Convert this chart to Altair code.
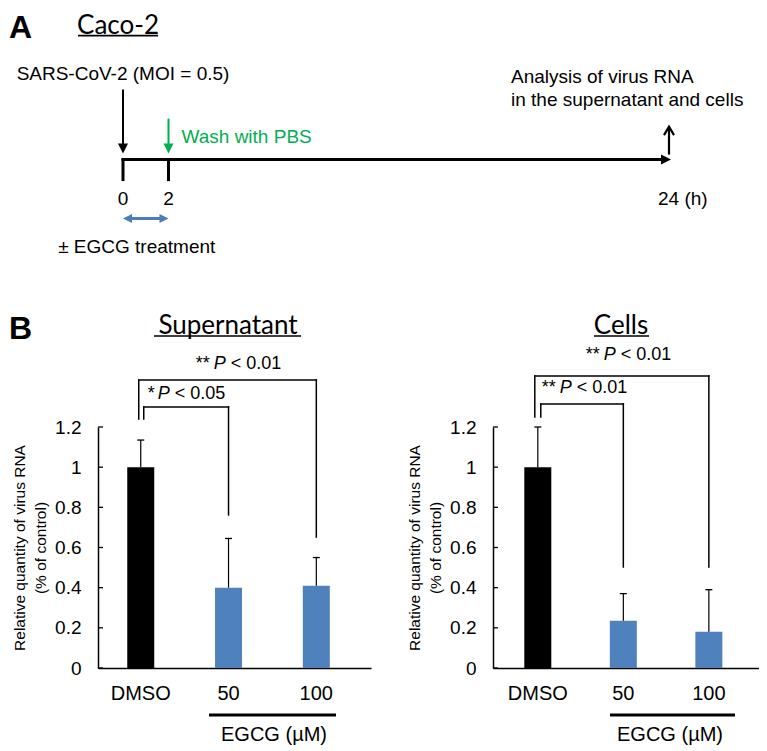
import altair as alt
import pandas as pd

ARIAL = "Liberation Sans"
CAL = "Lato"

# ---------------- Panel A : timeline (hours) ----------------
tick_hours = [0, 2]
tick_labels = ["0", "2"]
end_hour = 24
end_label = "24 (h)"
infect_label = "SARS-CoV-2 (MOI = 0.5)"
wash_label = "Wash with PBS"
analysis_lines = ["Analysis of virus RNA", "in the supernatant and cells"]
treat_label = "\u00b1 EGCG treatment"
panel_letters = ["A", "B"]
cell_line = "Caco-2"

# ---------------- Panel B : bar charts ----------------
groups = ["DMSO", "50", "100"]
bar_colors = ["#000000", "#4F81BD", "#4F81BD"]
sup_mean = [1.00, 0.40, 0.41]
sup_err = [0.135, 0.245, 0.14]
cell_mean = [1.00, 0.235, 0.18]
cell_err = [0.20, 0.135, 0.21]
y_ticks = [0, 0.2, 0.4, 0.6, 0.8, 1.0, 1.2]
y_title = ["Relative quantity of virus RNA", "(% of control)"]
x_group_label = "EGCG (\u00b5M)"
# (from, to, bottom at from, top, bottom at to)
sup_brackets = [("DMSO", "50", 1.24, 1.30, 0.762), ("DMSO", "100", 1.24, 1.434, 0.652)]
cell_brackets = [("DMSO", "50", 1.25, 1.315, 0.503), ("DMSO", "100", 1.25, 1.454, 0.503)]
# (y, stars, rest)
sup_p = [(1.365, "*", "< 0.05"), (1.514, "**", "< 0.01")]
cell_p = [(1.394, "**", "< 0.01"), (1.559, "**", "< 0.01")]
panel_titles = ["Supernatant", "Cells"]

DOWN = "M-1,-1L1,-1L0,1Z"
RIGHT = "M-1,-1L1,0L-1,1Z"
LEFT = "M1,-1L-1,0L1,1Z"
UPCHEV = "M-1,0.7L0,-1L1,0.7"

S = -6.4  # vertical shift of panel A content


def one(**cols):
    return pd.DataFrame({k: (v if isinstance(v, list) else [v]) for k, v in cols.items()})


def text(t, x, y, size=19, align="left", baseline="middle", font=ARIAL, weight="normal",
         color="black", style="normal", dx=0, data=None):
    df = data if data is not None else one(t=t)
    return alt.Chart(df).mark_text(align=align, baseline=baseline, font=font, fontSize=size,
                                   fontWeight=weight, fontStyle=style, color=color, dx=dx).encode(
        text="t:N", x=x, y=y)


V = lambda v: alt.value(v + S)

# ---------------- Panel A ----------------
xa = alt.Scale(domain=[0, 24], range=[25, 571])
HX = lambda f="h": alt.X(f"{f}:Q", scale=xa, axis=None)
HX2 = lambda f: alt.X2(f"{f}:Q")

A = []
A.append(alt.Chart(one(a=0)).mark_rule(color="white", strokeWidth=1).encode(
    x=alt.value(-89), x2=alt.value(-88), y=alt.value(-7)))
A.append(text(panel_letters[0], alt.value(-89), alt.value(22), size=32, weight="bold", baseline="alphabetic"))
A.append(text(panel_letters[1], alt.value(-89), V(329), size=32, weight="bold", baseline="alphabetic"))
A.append(text(cell_line, alt.value(20), V(24), size=26, font=CAL, align="center", baseline="alphabetic"))
A.append(alt.Chart(one(a=0)).mark_rule(color="black", strokeWidth=1.6).encode(
    x=alt.value(-20), x2=alt.value(60), y=V(26)))
A.append(text(infect_label, HX(), V(70), align="center", baseline="alphabetic",
              data=one(t=infect_label, h=tick_hours[0])))
# black infection arrow
A.append(alt.Chart(one(h=tick_hours[0])).mark_rule(color="black", strokeWidth=2).encode(
    x=HX(), y=V(80), y2=V(136)))
A.append(alt.Chart(one(h=tick_hours[0])).mark_point(shape=DOWN, size=100, filled=True, color="black", opacity=1).encode(
    x=HX(), y=V(139)))
# green wash arrow
A.append(alt.Chart(one(h=tick_hours[1])).mark_rule(color="#00B050", strokeWidth=2).encode(
    x=HX(), y=V(109), y2=V(136)))
A.append(alt.Chart(one(h=tick_hours[1])).mark_point(shape=DOWN, size=100, filled=True, color="#00B050", opacity=1).encode(
    x=HX(), y=V(139)))
A.append(text(wash_label, HX(), V(127), color="#00B050", dx=13, data=one(t=wash_label, h=tick_hours[1])))
# timeline
A.append(alt.Chart(one(h0=tick_hours[0], h1=end_hour)).mark_rule(color="black", strokeWidth=3, x2Offset=-6, strokeCap="square").encode(
    x=HX("h0"), x2=HX2("h1"), y=V(150)))
A.append(alt.Chart(one(h=end_hour)).mark_point(shape=RIGHT, size=100, filled=True, color="black", opacity=1, xOffset=-3).encode(
    x=HX(), y=V(150)))
A.append(alt.Chart(pd.DataFrame({"h": tick_hours})).mark_rule(color="black", strokeWidth=3, strokeCap="square").encode(
    x=HX(), y=V(150), y2=V(170)))
A.append(text(None, HX(), V(189), align="center", data=pd.DataFrame({"t": tick_labels, "h": tick_hours})))
A.append(text(end_label, HX(), V(189), dx=-11, data=one(t=end_label, h=end_hour)))
# analysis arrow
A.append(alt.Chart(one(h=end_hour)).mark_rule(color="black", strokeWidth=2.2).encode(
    x=HX(), y=V(145), y2=V(119)))
A.append(alt.Chart(one(h=end_hour)).mark_point(shape=UPCHEV, size=100, filled=False, color="black", strokeWidth=2.2, opacity=1).encode(
    x=HX(), y=V(122)))
A.append(text(analysis_lines[0], alt.value(413), V(67)))
A.append(text(analysis_lines[1], alt.value(413), V(90)))
# treatment double arrow
BLUE = "#4A7EBB"
A.append(alt.Chart(one(h0=tick_hours[0], h1=tick_hours[1])).mark_rule(color=BLUE, strokeWidth=3, xOffset=5, x2Offset=-5).encode(
    x=HX("h0"), x2=HX2("h1"), y=V(209)))
A.append(alt.Chart(one(h=tick_hours[0])).mark_point(shape=LEFT, size=81, filled=True, color=BLUE, opacity=1, xOffset=4.5).encode(
    x=HX(), y=V(209)))
A.append(alt.Chart(one(h=tick_hours[1])).mark_point(shape=RIGHT, size=81, filled=True, color=BLUE, opacity=1, xOffset=-4.5).encode(
    x=HX(), y=V(209)))
A.append(text(treat_label, HX(), V(237), align="center", dx=-9, data=one(t=treat_label, h=1)))

panelA = alt.layer(*A).properties(width=661, height=417 + S)


# ---------------- Panel B ----------------
def bar_chart(means, errs, title, brackets, plabels, width, align, title_x, ul, egcg_ul, egcg_x,
              br_off, p_dx):
    H = 241
    xs = alt.Scale(domain=groups, paddingInner=0.69, paddingOuter=0.4, align=align)
    ys = alt.Scale(domain=[0, 1.2], nice=False, zero=False)
    xaxis = alt.Axis(title=None, labelAngle=0, labelFont=ARIAL, labelFontSize=20, labelColor="black",
                     labelPadding=15, ticks=False, tickSize=0, domainColor="black", domainWidth=1.5, grid=False)
    yaxis = alt.Axis(title=y_title, values=y_ticks, format="~g", labelFont=ARIAL, labelFontSize=19,
                     labelColor="black", labelPadding=17, ticks=False, tickSize=0, domainColor="black",
                     domainWidth=1.5, grid=False, titleFont=ARIAL, titleFontSize=15.5, titleFontWeight="normal",
                     titleColor="black", titleLineHeight=21, titlePadding=6)
    X = lambda f: alt.X(f"{f}:N", scale=xs, axis=xaxis, bandPosition=0.5)
    Y = lambda f: alt.Y(f"{f}:Q", scale=ys, axis=yaxis)
    df = pd.DataFrame({"g": groups, "m": means, "e": errs, "c": bar_colors})
    base = alt.Chart(df)
    L = []
    L.append(base.mark_bar(width=27).encode(
        x=alt.X("g:N", scale=xs, axis=xaxis), y=Y("m"),
        color=alt.Color("c:N", scale=None)))
    L.append(base.transform_calculate(top="datum.m + datum.e").mark_rule(color="black", strokeWidth=1.2).encode(
        x=X("g"), y=Y("m"), y2="top:Q"))
    L.append(base.transform_calculate(top="datum.m + datum.e").mark_tick(
        orient="horizontal", size=7, thickness=1.3, color="black", opacity=1).encode(x=X("g"), y=Y("top")))
    L.append(alt.Chart(pd.DataFrame({"v": y_ticks})).mark_rule(color="black", strokeWidth=1.3).encode(
        y=Y("v"), x=alt.value(0), x2=alt.value(5)))
    for (a, b, y0, yt, y1), off in zip(brackets, br_off):
        d = one(a=a, b=b, y0=y0, yt=yt, y1=y1)
        c = alt.Chart(d)
        L.append(c.mark_rule(color="black", strokeWidth=1.5, xOffset=off, strokeCap="square").encode(
            x=X("a"), y=Y("y0"), y2="yt:Q"))
        L.append(c.mark_rule(color="black", strokeWidth=1.5, xOffset=off, strokeCap="square").encode(
            x=X("a"), x2=alt.X2("b:N", bandPosition=0.5), y=Y("yt")))
        L.append(c.mark_rule(color="black", strokeWidth=1.5, strokeCap="square").encode(
            x=X("b"), y=Y("yt"), y2="y1:Q"))
    for (yv, stars, rest), dx0 in zip(plabels, p_dx):
        d = one(a=groups[0], y=yv, s=stars, p="P", r=rest)
        c = alt.Chart(d)
        sw = 10 if len(stars) == 1 else 18
        L.append(c.mark_text(align="left", baseline="middle", font=ARIAL, fontSize=18, color="black", dx=dx0).encode(
            x=X("a"), y=Y("y"), text="s:N"))
        L.append(c.mark_text(align="left", baseline="middle", font=ARIAL, fontSize=18, fontStyle="italic",
                             color="black", dx=dx0 + sw).encode(x=X("a"), y=Y("y"), text="p:N"))
        L.append(c.mark_text(align="left", baseline="middle", font=ARIAL, fontSize=18, color="black",
                             dx=dx0 + sw + 17).encode(x=X("a"), y=Y("y"), text="r:N"))
    L.append(text(title, alt.value(title_x), alt.value(-93), size=26, font=CAL, align="center", baseline="alphabetic"))
    L.append(alt.Chart(one(a=0)).mark_rule(color="black", strokeWidth=1.6).encode(
        x=alt.value(ul[0]), x2=alt.value(ul[1]), y=alt.value(-91)))
    L.append(alt.Chart(one(a=0)).mark_rule(color="black", strokeWidth=3).encode(
        x=alt.value(egcg_ul[0]), x2=alt.value(egcg_ul[1]), y=alt.value(288)))
    L.append(text(x_group_label, alt.value(egcg_x), alt.value(308), size=20, align="center"))
    return alt.layer(*L).properties(width=width, height=H)


left = bar_chart(sup_mean, sup_err, panel_titles[0], sup_brackets, sup_p, 273, 0.415, 130, (56, 203),
                 (111, 238), 176, [3, -2], [7, 55])
right = bar_chart(cell_mean, cell_err, panel_titles[1], cell_brackets, cell_p, 266, 0.461, 128, (101, 156),
                  (117, 242), 177, [3, -3], [4, 48])

chart = alt.vconcat(
    panelA,
    alt.hconcat(left, right, spacing=122, bounds="flush"),
    spacing=0, bounds="flush", padding=0,
).configure(font=ARIAL).configure_view(stroke=None)

chart.save("out.html", embed_options={"renderer": "svg", "actions": False})
